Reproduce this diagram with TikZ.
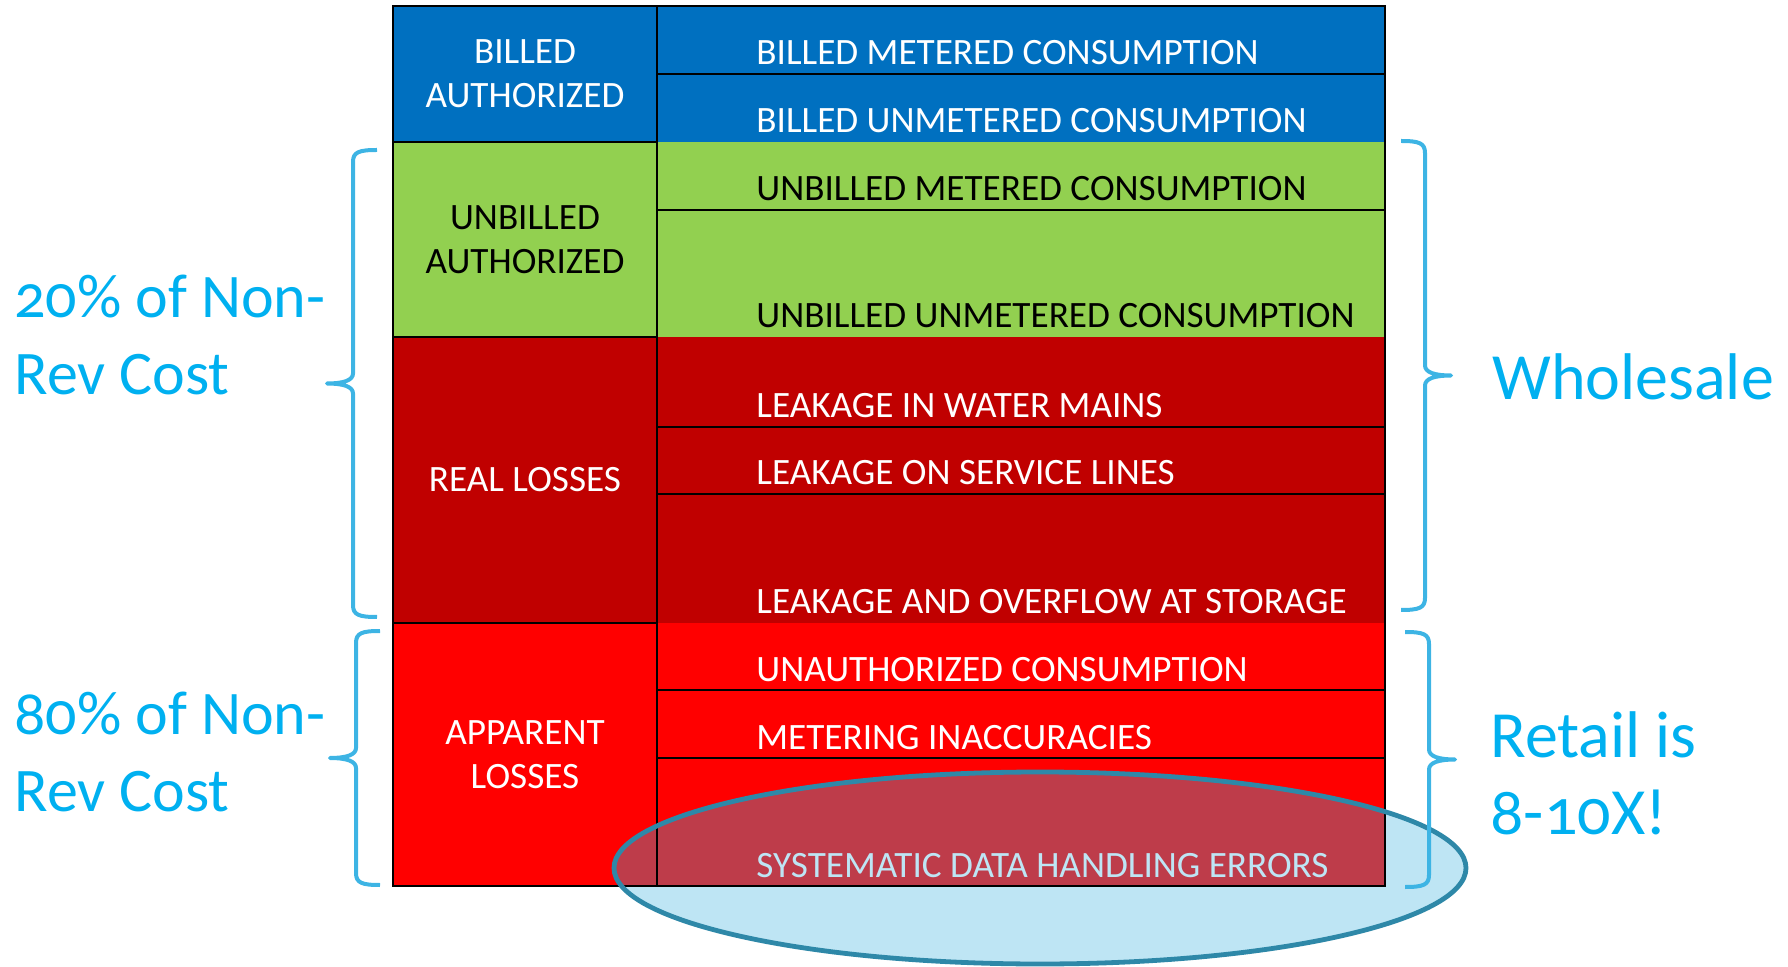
\documentclass[tikz,border=0pt]{standalone}
\usepackage{fontspec}
\setmainfont{Carlito}
\newfontfamily\notefont[Numbers=OldStyle]{Carlito}
\definecolor{billblue}{HTML}{0070C0}
\definecolor{unbillgreen}{HTML}{92D050}
\definecolor{realred}{HTML}{C00000}
\definecolor{appred}{HTML}{FF0000}
\definecolor{hazefill}{HTML}{BEE5F4}
\definecolor{hazeline}{HTML}{2E88A8}
\definecolor{hazered}{HTML}{BE3C4A}
\definecolor{notecol}{HTML}{00B0F0}
\definecolor{bracecol}{HTML}{3DB4E4}
\tikzset{%
  cellline/.style={draw=black, line width=0.7pt},
  item/.style={
    anchor=base west,
    inner sep=0pt,
    font=\fontsize{18.6}{22}\selectfont
  },
  group/.style={
    align=center,
    inner sep=0pt,
    font=\fontsize{18.6}{22}\selectfont
  },
  note/.style={
    anchor=base west,
    align=left,
    inner sep=0pt,
    text=notecol,
    font=\notefont\fontsize{33}{38.5}\selectfont
  },
  share/.style={
    note,
    font=\notefont\fontsize{31}{38.5}\selectfont
  },
  curly/.style={draw=bracecol, line width=2pt, line join=round},
}

\begin{document}
\begin{tikzpicture}[x=0.5pt, y=-0.5pt]
        \useasboundingbox (0,0) rectangle (1788,967);

        % left column: the four kinds of water
        \foreach \ya/\yb/\c/\f/\l [count=\i] in {6/142/billblue/white/{BILLED\\AUTHORIZED},
                                                 142/337/unbillgreen/black/{UNBILLED\\AUTHORIZED},
                                                 337/623/realred/white/{REAL LOSSES},
                                                 623/886/appred/white/{APPARENT\\LOSSES}}
        {
            \fill[\c] (393,\ya) rectangle (657,\yb);
            \node[group, text=\f] (group-\i) at (525,{(\ya+\yb)/2}) {\l};
        }

        % right column fills
        \foreach \ya/\yb/\c in {6/142/billblue, 142/337/unbillgreen, 337/623/realred, 623/886/appred}
            \fill[\c] (657,\ya) rectangle (1385,\yb);

        % the ellipse over the data handling errors
        \coordinate (errs) at (1040,868);
        \fill[hazefill] (errs) ellipse [x radius=426, y radius=96];
        \begin{scope}
            \clip (errs) ellipse [x radius=426, y radius=96];
            \fill[hazered] (393,623) rectangle (1385,886);
        \end{scope}

        % table rules
        \draw[cellline] (393,6) rectangle (1385,886);
        \draw[cellline] (657,6) -- (657,886);
        \foreach \y in {142,337,623}
            \draw[cellline] (393,\y) -- (657,\y);
        \foreach \y in {74,210,427,494,690,758}
            \draw[cellline] (657,\y) -- (1385,\y);

        % right column entries, set on the bottom of their cells
        \foreach \yb/\f/\l [count=\i] in {74/white/BILLED METERED CONSUMPTION,
                                          142/white/BILLED UNMETERED CONSUMPTION,
                                          210/black/UNBILLED METERED CONSUMPTION,
                                          337/black/UNBILLED UNMETERED CONSUMPTION,
                                          427/white/LEAKAGE IN WATER MAINS,
                                          494/white/LEAKAGE ON SERVICE LINES,
                                          623/white/LEAKAGE AND OVERFLOW AT STORAGE,
                                          690/white/UNAUTHORIZED CONSUMPTION,
                                          758/white/METERING INACCURACIES,
                                          886/hazefill/SYSTEMATIC DATA HANDLING ERRORS}
            \node[item, text=\f] (item-\i) at (756,\yb-9) {\l};

        \draw[hazeline, line width=2.4pt] (errs) ellipse [x radius=426, y radius=96];

        % braces: x of the spine, top, bottom, side
        \foreach \x/\ya/\yb/\s [evaluate=\ya as \m using {(\ya+\yb)/2}] in {353/150/617/1, 356/631/885/1,
                                                                            1425/141/610/-1, 1429/632/887/-1}
            \draw[curly] (\x+24*\s,\ya) .. controls (\x+6*\s,\ya) and (\x,\ya+2) .. (\x,\ya+12)
                -- (\x,\m-10) .. controls (\x,\m-3) and (\x-10*\s,\m) .. (\x-26*\s,\m)
                .. controls (\x-10*\s,\m) and (\x,\m+3) .. (\x,\m+10)
                -- (\x,\yb-12) .. controls (\x,\yb-2) and (\x+6*\s,\yb) .. (\x+24*\s,\yb);

        % notes, placed on the baseline of their last line
        \node[share] (share-20) at (14,395) {20\% of Non-\\Rev Cost};
        \node[share] (share-80) at (14,811) {80\% of Non-\\Rev Cost};
        \node[note] (wholesale) at (1492,400) {Wholesale};
        \node[note] (retail) at (1490,834) {Retail is\\8-10X!};
\end{tikzpicture}
\end{document}
